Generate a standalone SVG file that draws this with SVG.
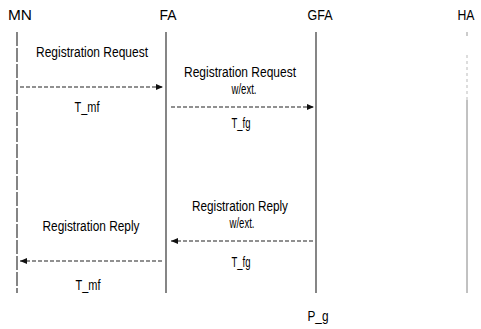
<svg xmlns="http://www.w3.org/2000/svg" width="481" height="329" viewBox="0 0 481 329">
<style>
text{font-family:"Liberation Sans",Arial,sans-serif;fill:#000;text-anchor:middle;}
.h{font-size:15px;}
.t{font-size:14px;}
.life{stroke:#222;stroke-width:1.1;fill:none;}
.msg{stroke:#222;stroke-width:1.1;stroke-dasharray:4 2;fill:none;marker-end:url(#ah);}
</style>
<defs>
<marker id="ah" viewBox="0 0 8 8" refX="7" refY="4" markerWidth="8" markerHeight="8" markerUnits="userSpaceOnUse" orient="auto">
<path d="M0,1 L7,4 L0,7 z" fill="#111"/>
</marker>
</defs>
<g id="MN">
<text class="h" x="20" y="20" textLength="24" lengthAdjust="spacingAndGlyphs">MN</text>
<line class="life" x1="17" y1="32" x2="17" y2="293" stroke-dasharray="14 2"/>
</g>
<g id="FA">
<text class="h" x="168" y="20" textLength="17" lengthAdjust="spacingAndGlyphs">FA</text>
<line class="life" x1="166" y1="32" x2="166" y2="293"/>
</g>
<g id="GFA">
<text class="h" x="320" y="20" textLength="25" lengthAdjust="spacingAndGlyphs">GFA</text>
<line class="life" x1="316" y1="32" x2="316" y2="293"/>
</g>
<g id="HA">
<text class="h" x="466" y="20" textLength="17" lengthAdjust="spacingAndGlyphs">HA</text>
<line x1="467" y1="32" x2="467" y2="36" stroke="#999" stroke-width="1"/>
<line x1="467" y1="55" x2="467" y2="100" stroke="#aaa" stroke-width="0.8" stroke-dasharray="3 3"/>
<line x1="467" y1="100" x2="467" y2="293" stroke="#666" stroke-width="0.8"/>
</g>
<g id="connectors">
<line class="msg" x1="20" y1="87" x2="163" y2="87"/>
<line class="msg" x1="171" y1="107" x2="314" y2="107"/>
<line class="msg" x1="313" y1="241" x2="171" y2="241"/>
<line class="msg" x1="162" y1="261" x2="20" y2="261"/>
</g>
<g id="labels">
<text class="t" x="92" y="57" textLength="112" lengthAdjust="spacingAndGlyphs">Registration Request</text>
<text class="t" x="87" y="112" textLength="25" lengthAdjust="spacingAndGlyphs">T_mf</text>
<text class="t" x="240" y="77" textLength="112" lengthAdjust="spacingAndGlyphs">Registration Request</text>
<text class="t" x="244" y="94" textLength="25" lengthAdjust="spacingAndGlyphs">w/ext.</text>
<text class="t" x="241" y="128" textLength="19" lengthAdjust="spacingAndGlyphs">T_fg</text>
<text class="t" x="240" y="211" textLength="96" lengthAdjust="spacingAndGlyphs">Registration Reply</text>
<text class="t" x="242" y="228" textLength="25" lengthAdjust="spacingAndGlyphs">w/ext.</text>
<text class="t" x="241" y="267" textLength="19" lengthAdjust="spacingAndGlyphs">T_fg</text>
<text class="t" x="91" y="231" textLength="97" lengthAdjust="spacingAndGlyphs">Registration Reply</text>
<text class="t" x="88" y="290" textLength="25" lengthAdjust="spacingAndGlyphs">T_mf</text>
<text class="t" x="318" y="321" textLength="21" lengthAdjust="spacingAndGlyphs">P_g</text>
</g>
</svg>
